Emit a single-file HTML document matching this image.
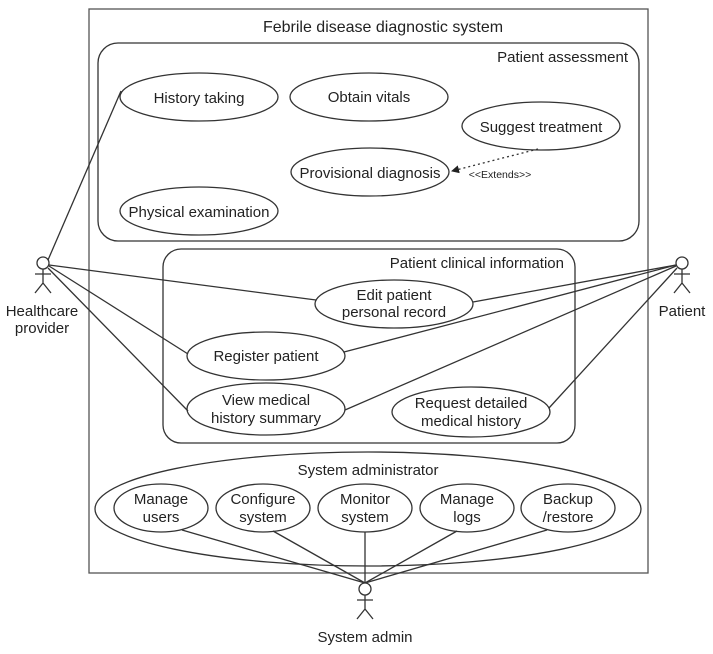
<!DOCTYPE html>
<html><head><meta charset="utf-8"><style>
html,body{margin:0;padding:0;background:#fff;}
svg{display:block;}
text{font-family:"Liberation Sans",Arial,sans-serif;fill:#222;}
</style></head><body>
<svg width="713" height="654" viewBox="0 0 713 654" xmlns="http://www.w3.org/2000/svg">
<defs><marker id="ah" markerWidth="8" markerHeight="8" refX="7" refY="4" orient="auto" markerUnits="userSpaceOnUse"><path d="M0,0 L8,4 L0,8 z" fill="#222"/></marker></defs>
<g fill="none" stroke="#333" stroke-width="1.3">
<rect x="89" y="9" width="559" height="564" stroke="#555"/>
<rect x="98" y="43" width="541" height="198" rx="20"/>
<rect x="163" y="249" width="412" height="194" rx="18"/>
<ellipse cx="199" cy="97" rx="79" ry="24" fill="#fff"/>
<ellipse cx="369" cy="97" rx="79" ry="24" fill="#fff"/>
<ellipse cx="541" cy="126" rx="79" ry="24" fill="#fff"/>
<ellipse cx="370" cy="172" rx="79" ry="24" fill="#fff"/>
<ellipse cx="199" cy="211" rx="79" ry="24" fill="#fff"/>
<ellipse cx="394" cy="304" rx="79" ry="24"/>
<ellipse cx="266" cy="356" rx="79" ry="24"/>
<ellipse cx="266" cy="409" rx="79" ry="26"/>
<ellipse cx="471" cy="412" rx="79" ry="25"/>
<ellipse cx="368" cy="509" rx="273" ry="57"/>
<ellipse cx="161" cy="508" rx="47" ry="24"/>
<ellipse cx="263" cy="508" rx="47" ry="24"/>
<ellipse cx="365" cy="508" rx="47" ry="24"/>
<ellipse cx="467" cy="508" rx="47" ry="24"/>
<ellipse cx="568" cy="508" rx="47" ry="24"/>
<line x1="538" y1="149" x2="452" y2="171" stroke-dasharray="2,3" marker-end="url(#ah)"/>
<line x1="48" y1="260" x2="121" y2="91"/>
<line x1="49" y1="265" x2="316" y2="300"/>
<line x1="49" y1="266" x2="188" y2="354"/>
<line x1="48" y1="268" x2="188" y2="411"/>
<line x1="676" y1="265" x2="473" y2="302"/>
<line x1="676" y1="265" x2="344" y2="352"/>
<line x1="676" y1="266" x2="345" y2="410"/>
<line x1="677" y1="268" x2="549" y2="408"/>
<line x1="365" y1="583" x2="182" y2="530"/>
<line x1="365" y1="583" x2="273" y2="531"/>
<line x1="365" y1="583" x2="365" y2="532"/>
<line x1="365" y1="583" x2="457" y2="531"/>
<line x1="365" y1="583" x2="547" y2="530"/>
<circle cx="43" cy="263" r="6" fill="#fff"/>
<path d="M43 269V283M35 274H51M35 293L43 283L51 293"/>
<circle cx="682" cy="263" r="6" fill="#fff"/>
<path d="M682 269V283M674 274H690M674 293L682 283L690 293"/>
<circle cx="365" cy="589" r="6" fill="#fff"/>
<path d="M365 595V609M357 600H373M357 619L365 609L373 619"/>
</g>
<g font-size="15" text-anchor="middle">
<text x="383" y="32" font-size="16">Febrile disease diagnostic system</text>
<text x="628" y="62" text-anchor="end">Patient assessment</text>
<text x="199" y="103">History taking</text>
<text x="369" y="102">Obtain vitals</text>
<text x="541" y="132">Suggest treatment</text>
<text x="370" y="178">Provisional diagnosis</text>
<text x="199" y="217">Physical examination</text>
<text x="500" y="178" font-size="10.5">&lt;&lt;Extends&gt;&gt;</text>
<text x="564" y="268" text-anchor="end">Patient clinical information</text>
<text x="394" y="300">Edit patient</text>
<text x="394" y="317">personal record</text>
<text x="266" y="361">Register patient</text>
<text x="266" y="405">View medical</text>
<text x="266" y="423">history summary</text>
<text x="471" y="408">Request detailed</text>
<text x="471" y="426">medical history</text>
<text x="368" y="475">System administrator</text>
<text x="161" y="504">Manage</text><text x="161" y="522">users</text>
<text x="263" y="504">Configure</text><text x="263" y="522">system</text>
<text x="365" y="504">Monitor</text><text x="365" y="522">system</text>
<text x="467" y="504">Manage</text><text x="467" y="522">logs</text>
<text x="568" y="504">Backup</text><text x="568" y="522">/restore</text>
<text x="42" y="316">Healthcare</text><text x="42" y="333">provider</text>
<text x="682" y="316">Patient</text>
<text x="365" y="642">System admin</text>
</g>
</svg>
</body></html>
